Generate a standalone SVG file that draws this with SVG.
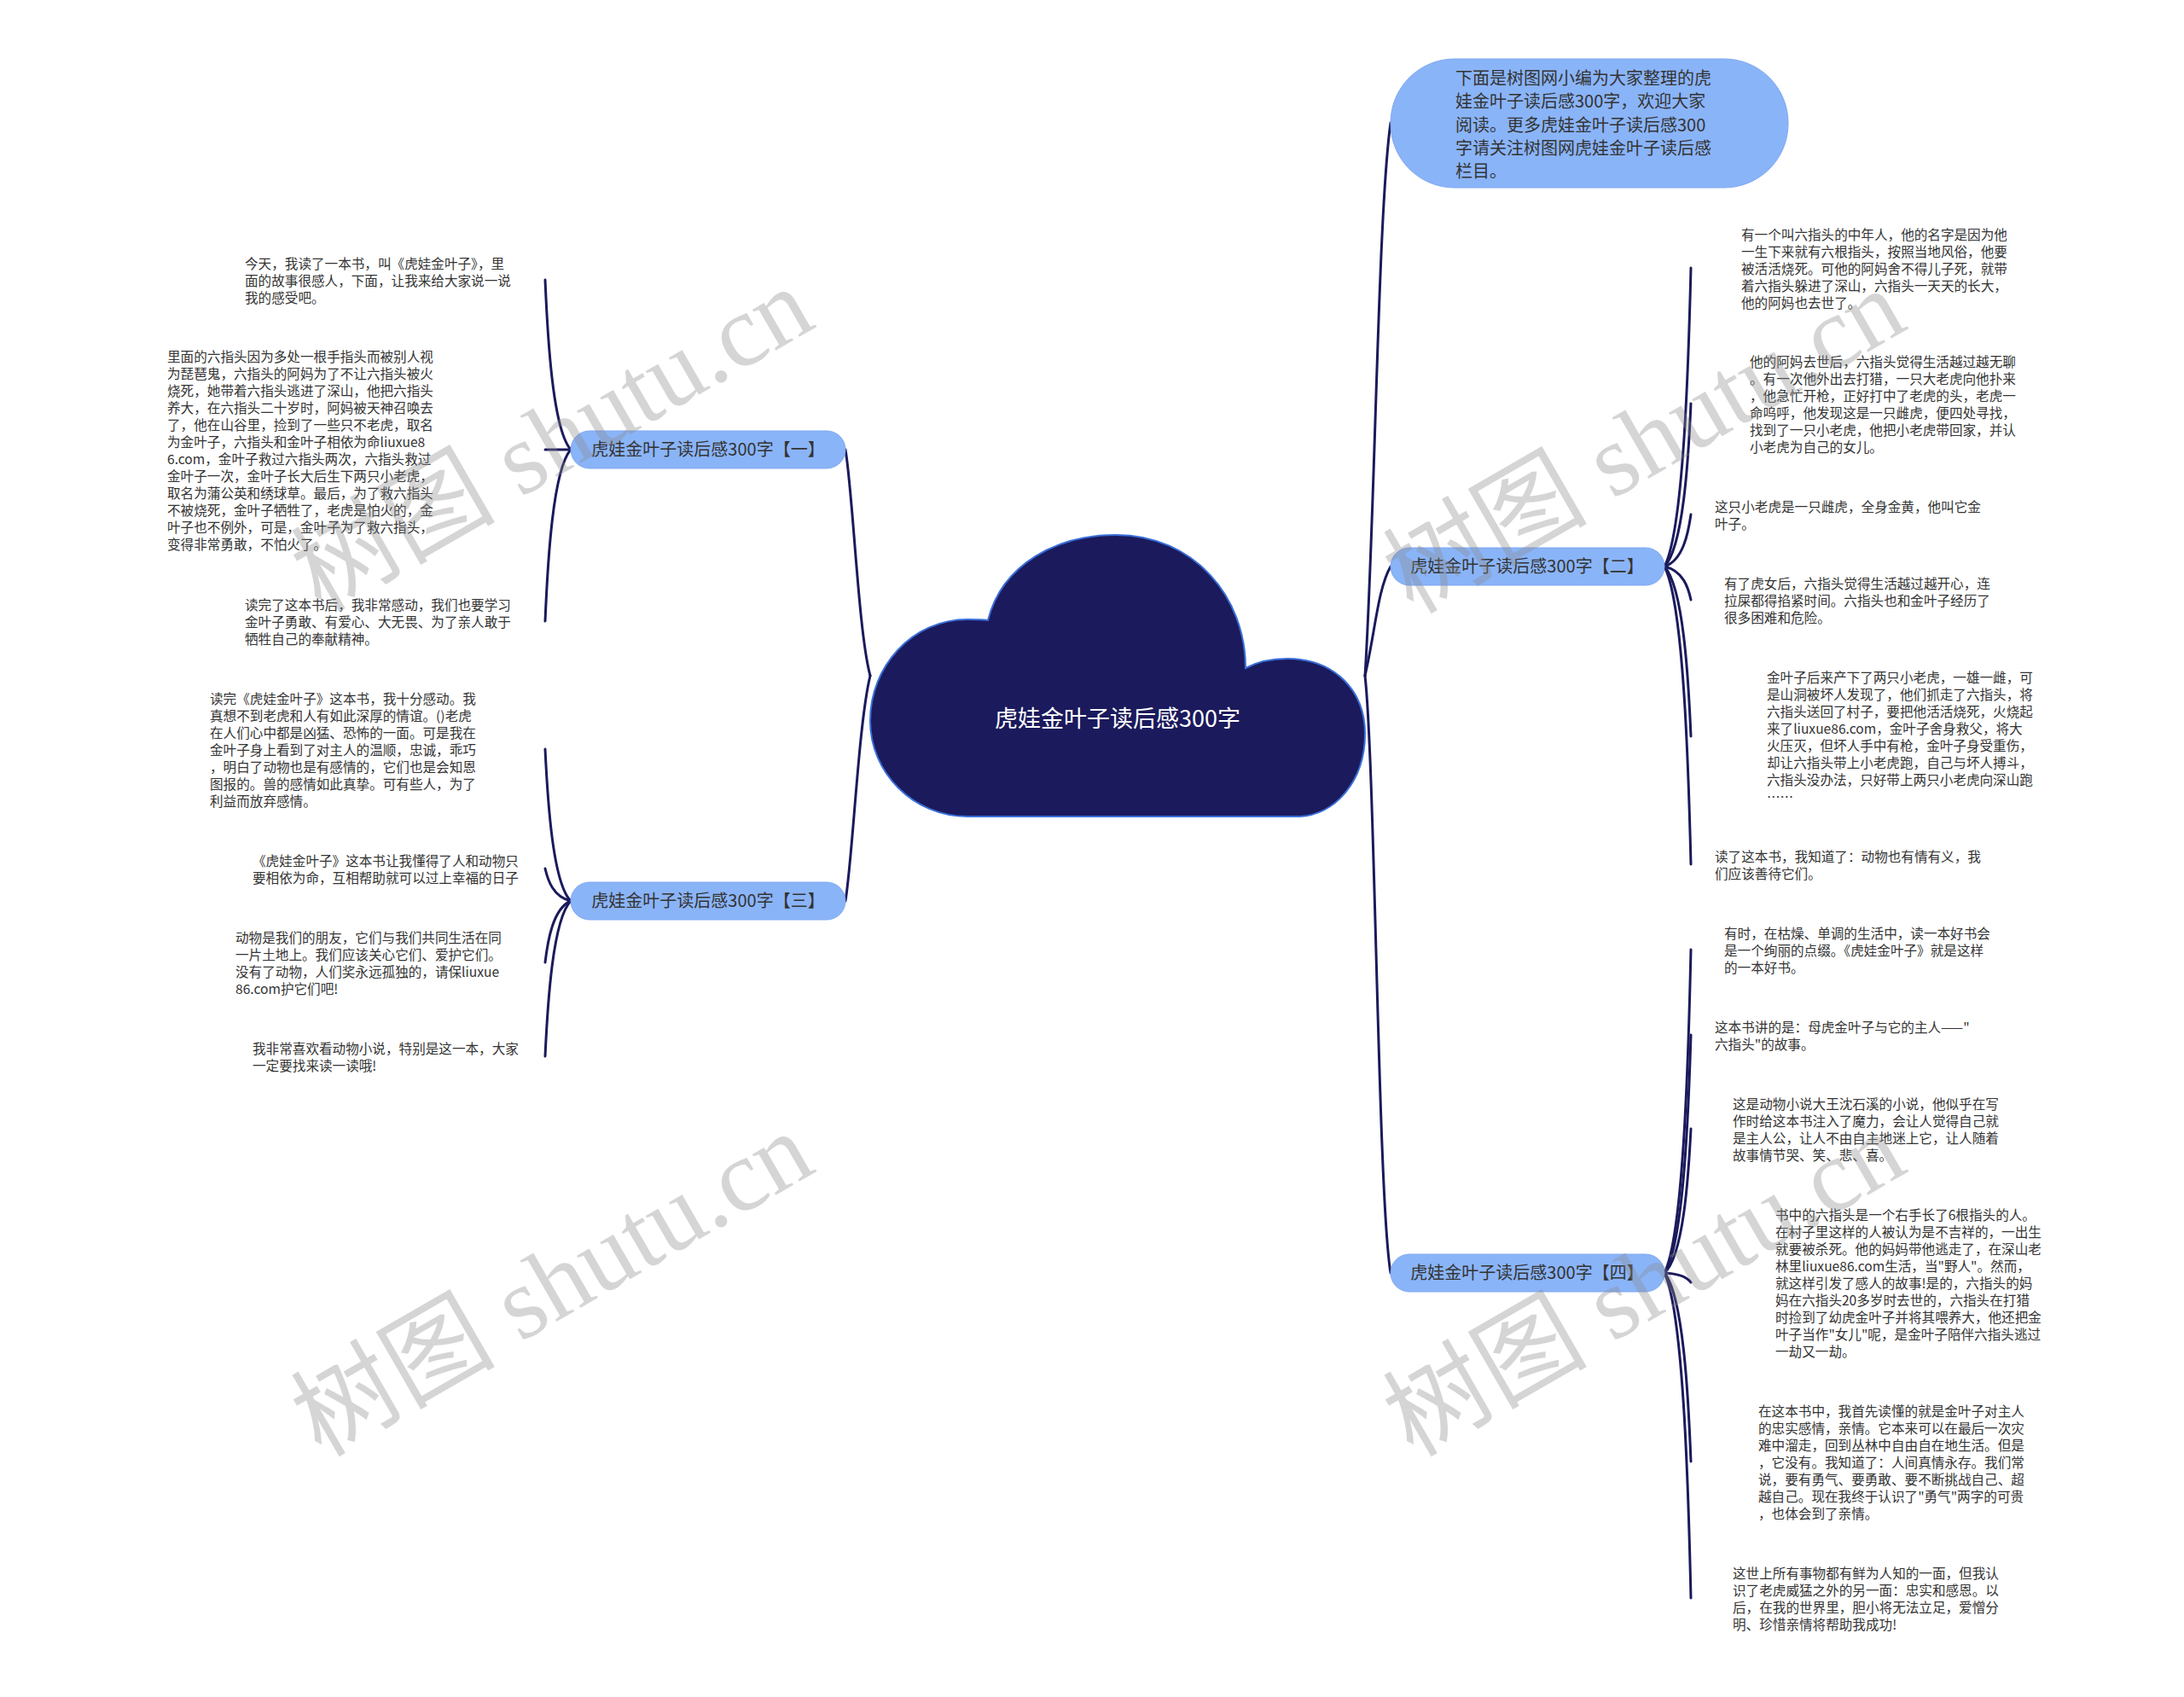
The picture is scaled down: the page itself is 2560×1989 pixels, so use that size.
<svg xmlns="http://www.w3.org/2000/svg" width="2560" height="1989" viewBox="0 0 2560 1989">
<style>
.bg{fill:#ffffff}
.conn path{fill:none;stroke:#1b1a5c;stroke-width:3;stroke-linecap:round}
.node rect{fill:#8ab4f8;stroke:#7ea9f0;stroke-width:1}
.nt{font-family:"Noto Sans CJK SC","Noto Sans",sans-serif;font-size:20px;fill:#333333}
.leaf{font-family:"Noto Sans CJK SC","Noto Sans",sans-serif;font-size:15.6px;fill:#333333;dominant-baseline:central}
.ct{font-family:"Noto Sans CJK SC","Noto Sans",sans-serif;font-size:27px;fill:#ffffff}
.wm{font-family:"Liberation Serif","Noto Sans CJK SC",serif;font-size:120px;fill:#8a8a8a;opacity:0.35}
</style>
<rect class="bg" x="0" y="0" width="2560" height="1989"/>

<g id="connectors" class="conn">
<path d="M1020 792 C1006 740 1000 580 991 527"/>
<path d="M1020 792 C1006 850 1000 1000 991 1056"/>
<path d="M1600 792 C1612 600 1615 250 1630 144"/>
<path d="M1600 792 C1612 740 1615 690 1630 664"/>
<path d="M1600 792 C1612 900 1615 1400 1630 1492"/>
<path d="M669 527 C648 503 642 398 639 328"/>
<path d="M669 527 L639 527"/>
<path d="M669 527 C648 551 642 658 639 728"/>
<path d="M669 1056 C648 1035 642 940 639 878"/>
<path d="M669 1056 C648 1051 642 1031 639 1018"/>
<path d="M669 1056 C648 1065 642 1103 639 1128"/>
<path d="M669 1056 C648 1078 642 1174 639 1238"/>
<path d="M1951 664 C1973 622 1979 436 1982 314"/>
<path d="M1951 664 C1973 641 1979 540 1982 473"/>
<path d="M1951 664 C1973 657 1979 624 1982 603"/>
<path d="M1951 664 C1973 669 1979 689 1982 703"/>
<path d="M1951 664 C1973 688 1979 793 1982 863"/>
<path d="M1951 664 C1973 706 1979 891 1982 1013"/>
<path d="M1951 1492 C1973 1447 1979 1246 1982 1113"/>
<path d="M1951 1492 C1973 1459 1979 1311 1982 1213"/>
<path d="M1951 1492 C1973 1472 1979 1382 1982 1323"/>
<path d="M1951 1492 C1973 1493 1979 1499 1982 1503"/>
<path d="M1951 1492 C1973 1519 1979 1636 1982 1713"/>
<path d="M1951 1492 C1973 1538 1979 1740 1982 1873"/>
</g>

<g id="root">
<path d="M1158 727 C1175 660 1240 627 1308 627 C1400 627 1460 700 1460 783 C1475 775 1490 772 1509 772 C1565 772 1600 810 1600 860 C1600 915 1565 957 1520 957 L1134 957 C1070 957 1020 905 1020 845 C1020 780 1070 726 1134 726 C1142 726 1150 726 1158 727 Z" fill="#1b1a5c" stroke="#3a6fd8" stroke-width="2"/>
<text class="ct" x="1310" y="852" text-anchor="middle">虎娃金叶子读后感300字</text>
</g>

<g id="intro" class="node">
<rect x="1630" y="69" width="466" height="151" rx="75" ry="75"/>
<text class="nt" x="1706" y="99"><tspan x="1706">下面是树图网小编为大家整理的虎</tspan><tspan x="1706" dy="27.3">娃金叶子读后感300字，欢迎大家</tspan><tspan x="1706" dy="27.3">阅读。更多虎娃金叶子读后感300</tspan><tspan x="1706" dy="27.3">字请关注树图网虎娃金叶子读后感</tspan><tspan x="1706" dy="27.3">栏目。</tspan></text>
</g>

<g id="b1" class="node">
<rect x="669" y="505" width="322" height="44" rx="22" ry="22"/>
<text class="nt" x="830" y="534" text-anchor="middle">虎娃金叶子读后感300字【一】</text>
</g>
<g id="b3" class="node">
<rect x="669" y="1034" width="322" height="44" rx="22" ry="22"/>
<text class="nt" x="830" y="1063" text-anchor="middle">虎娃金叶子读后感300字【三】</text>
</g>
<g id="b2" class="node">
<rect x="1630" y="642" width="321" height="44" rx="22" ry="22"/>
<text class="nt" x="1790" y="671" text-anchor="middle">虎娃金叶子读后感300字【二】</text>
</g>
<g id="b4" class="node">
<rect x="1630" y="1470" width="321" height="44" rx="22" ry="22"/>
<text class="nt" x="1790" y="1499" text-anchor="middle">虎娃金叶子读后感300字【四】</text>
</g>

<g id="t1"><text class="leaf" x="287" y="308"><tspan x="287">今天，我读了一本书，叫《虎娃金叶子》，里</tspan><tspan x="287" dy="20">面的故事很感人，下面，让我来给大家说一说</tspan><tspan x="287" dy="20">我的感受吧。</tspan></text></g>
<g id="t2"><text class="leaf" x="196" y="417"><tspan x="196">里面的六指头因为多处一根手指头而被别人视</tspan><tspan x="196" dy="20">为琵琶鬼，六指头的阿妈为了不让六指头被火</tspan><tspan x="196" dy="20">烧死，她带着六指头逃进了深山，他把六指头</tspan><tspan x="196" dy="20">养大，在六指头二十岁时，阿妈被天神召唤去</tspan><tspan x="196" dy="20">了，他在山谷里，捡到了一些只不老虎，取名</tspan><tspan x="196" dy="20">为金叶子，六指头和金叶子相依为命liuxue8</tspan><tspan x="196" dy="20">6.com，金叶子救过六指头两次，六指头救过</tspan><tspan x="196" dy="20">金叶子一次，金叶子长大后生下两只小老虎，</tspan><tspan x="196" dy="20">取名为蒲公英和绣球草。最后，为了救六指头</tspan><tspan x="196" dy="20">不被烧死，金叶子牺牲了，老虎是怕火的，金</tspan><tspan x="196" dy="20">叶子也不例外，可是，金叶子为了救六指头，</tspan><tspan x="196" dy="20">变得非常勇敢，不怕火了。</tspan></text></g>
<g id="t3"><text class="leaf" x="287" y="708"><tspan x="287">读完了这本书后，我非常感动，我们也要学习</tspan><tspan x="287" dy="20">金叶子勇敢、有爱心、大无畏、为了亲人敢于</tspan><tspan x="287" dy="20">牺牲自己的奉献精神。</tspan></text></g>
<g id="t4"><text class="leaf" x="246" y="818"><tspan x="246">读完《虎娃金叶子》这本书，我十分感动。我</tspan><tspan x="246" dy="20">真想不到老虎和人有如此深厚的情谊。()老虎</tspan><tspan x="246" dy="20">在人们心中都是凶猛、恐怖的一面。可是我在</tspan><tspan x="246" dy="20">金叶子身上看到了对主人的温顺，忠诚，乖巧</tspan><tspan x="246" dy="20">，明白了动物也是有感情的，它们也是会知恩</tspan><tspan x="246" dy="20">图报的。兽的感情如此真挚。可有些人，为了</tspan><tspan x="246" dy="20">利益而放弃感情。</tspan></text></g>
<g id="t5"><text class="leaf" x="296" y="1008"><tspan x="296">《虎娃金叶子》这本书让我懂得了人和动物只</tspan><tspan x="296" dy="20">要相依为命，互相帮助就可以过上幸福的日子</tspan></text></g>
<g id="t6"><text class="leaf" x="276" y="1098"><tspan x="276">动物是我们的朋友，它们与我们共同生活在同</tspan><tspan x="276" dy="20">一片土地上。我们应该关心它们、爱护它们。</tspan><tspan x="276" dy="20">没有了动物，人们奖永远孤独的，请保liuxue</tspan><tspan x="276" dy="20">86.com护它们吧!</tspan></text></g>
<g id="t7"><text class="leaf" x="296" y="1228"><tspan x="296">我非常喜欢看动物小说，特别是这一本，大家</tspan><tspan x="296" dy="20">一定要找来读一读哦!</tspan></text></g>

<g id="t8"><text class="leaf" x="2041" y="274"><tspan x="2041">有一个叫六指头的中年人，他的名字是因为他</tspan><tspan x="2041" dy="20">一生下来就有六根指头，按照当地风俗，他要</tspan><tspan x="2041" dy="20">被活活烧死。可他的阿妈舍不得儿子死，就带</tspan><tspan x="2041" dy="20">着六指头躲进了深山，六指头一天天的长大，</tspan><tspan x="2041" dy="20">他的阿妈也去世了。</tspan></text></g>
<g id="t9"><text class="leaf" x="2051" y="423"><tspan x="2051">他的阿妈去世后，六指头觉得生活越过越无聊</tspan><tspan x="2051" dy="20">。有一次他外出去打猎，一只大老虎向他扑来</tspan><tspan x="2051" dy="20">，他急忙开枪，正好打中了老虎的头，老虎一</tspan><tspan x="2051" dy="20">命呜呼，他发现这是一只雌虎，便四处寻找，</tspan><tspan x="2051" dy="20">找到了一只小老虎，他把小老虎带回家，并认</tspan><tspan x="2051" dy="20">小老虎为自己的女儿。</tspan></text></g>
<g id="t10"><text class="leaf" x="2010" y="593"><tspan x="2010">这只小老虎是一只雌虎，全身金黄，他叫它金</tspan><tspan x="2010" dy="20">叶子。</tspan></text></g>
<g id="t11"><text class="leaf" x="2021" y="683"><tspan x="2021">有了虎女后，六指头觉得生活越过越开心，连</tspan><tspan x="2021" dy="20">拉屎都得掐紧时间。六指头也和金叶子经历了</tspan><tspan x="2021" dy="20">很多困难和危险。</tspan></text></g>
<g id="t12"><text class="leaf" x="2071" y="793"><tspan x="2071">金叶子后来产下了两只小老虎，一雄一雌，可</tspan><tspan x="2071" dy="20">是山洞被坏人发现了，他们抓走了六指头，将</tspan><tspan x="2071" dy="20">六指头送回了村子，要把他活活烧死，火烧起</tspan><tspan x="2071" dy="20">来了liuxue86.com，金叶子舍身救父，将大</tspan><tspan x="2071" dy="20">火压灭，但坏人手中有枪，金叶子身受重伤，</tspan><tspan x="2071" dy="20">却让六指头带上小老虎跑，自己与坏人搏斗，</tspan><tspan x="2071" dy="20">六指头没办法，只好带上两只小老虎向深山跑</tspan><tspan x="2071" dy="20">……</tspan></text></g>
<g id="t13"><text class="leaf" x="2010" y="1003"><tspan x="2010">读了这本书，我知道了：动物也有情有义，我</tspan><tspan x="2010" dy="20">们应该善待它们。</tspan></text></g>

<g id="t14"><text class="leaf" x="2021" y="1093"><tspan x="2021">有时，在枯燥、单调的生活中，读一本好书会</tspan><tspan x="2021" dy="20">是一个绚丽的点缀。《虎娃金叶子》就是这样</tspan><tspan x="2021" dy="20">的一本好书。</tspan></text></g>
<g id="t15"><text class="leaf" x="2010" y="1203"><tspan x="2010">这本书讲的是：母虎金叶子与它的主人——"</tspan><tspan x="2010" dy="20">六指头"的故事。</tspan></text></g>
<g id="t16"><text class="leaf" x="2031" y="1293"><tspan x="2031">这是动物小说大王沈石溪的小说，他似乎在写</tspan><tspan x="2031" dy="20">作时给这本书注入了魔力，会让人觉得自己就</tspan><tspan x="2031" dy="20">是主人公，让人不由自主地迷上它，让人随着</tspan><tspan x="2031" dy="20">故事情节哭、笑、悲、喜。</tspan></text></g>
<g id="t17"><text class="leaf" x="2081" y="1423"><tspan x="2081">书中的六指头是一个右手长了6根指头的人。</tspan><tspan x="2081" dy="20">在村子里这样的人被认为是不吉祥的，一出生</tspan><tspan x="2081" dy="20">就要被杀死。他的妈妈带他逃走了，在深山老</tspan><tspan x="2081" dy="20">林里liuxue86.com生活，当"野人"。然而，</tspan><tspan x="2081" dy="20">就这样引发了感人的故事!是的，六指头的妈</tspan><tspan x="2081" dy="20">妈在六指头20多岁时去世的，六指头在打猎</tspan><tspan x="2081" dy="20">时捡到了幼虎金叶子并将其喂养大，他还把金</tspan><tspan x="2081" dy="20">叶子当作"女儿"呢，是金叶子陪伴六指头逃过</tspan><tspan x="2081" dy="20">一劫又一劫。</tspan></text></g>
<g id="t18"><text class="leaf" x="2061" y="1653"><tspan x="2061">在这本书中，我首先读懂的就是金叶子对主人</tspan><tspan x="2061" dy="20">的忠实感情，亲情。它本来可以在最后一次灾</tspan><tspan x="2061" dy="20">难中溜走，回到丛林中自由自在地生活。但是</tspan><tspan x="2061" dy="20">，它没有。我知道了：人间真情永存。我们常</tspan><tspan x="2061" dy="20">说，要有勇气、要勇敢、要不断挑战自己、超</tspan><tspan x="2061" dy="20">越自己。现在我终于认识了"勇气"两字的可贵</tspan><tspan x="2061" dy="20">，也体会到了亲情。</tspan></text></g>
<g id="t19"><text class="leaf" x="2031" y="1843"><tspan x="2031">这世上所有事物都有鲜为人知的一面，但我认</tspan><tspan x="2031" dy="20">识了老虎威猛之外的另一面：忠实和感恩。以</tspan><tspan x="2031" dy="20">后，在我的世界里，胆小将无法立足，爱憎分</tspan><tspan x="2031" dy="20">明、珍惜亲情将帮助我成功!</tspan></text></g>

<g id="watermarks">
<text class="wm" x="650" y="555" text-anchor="middle" transform="rotate(-30 650 520)">树图 shutu.cn</text>
<text class="wm" x="650" y="1545" text-anchor="middle" transform="rotate(-30 650 1510)">树图 shutu.cn</text>
<text class="wm" x="1930" y="557" text-anchor="middle" transform="rotate(-30 1930 522)">树图 shutu.cn</text>
<text class="wm" x="1930" y="1545" text-anchor="middle" transform="rotate(-30 1930 1510)">树图 shutu.cn</text>
</g>
</svg>
